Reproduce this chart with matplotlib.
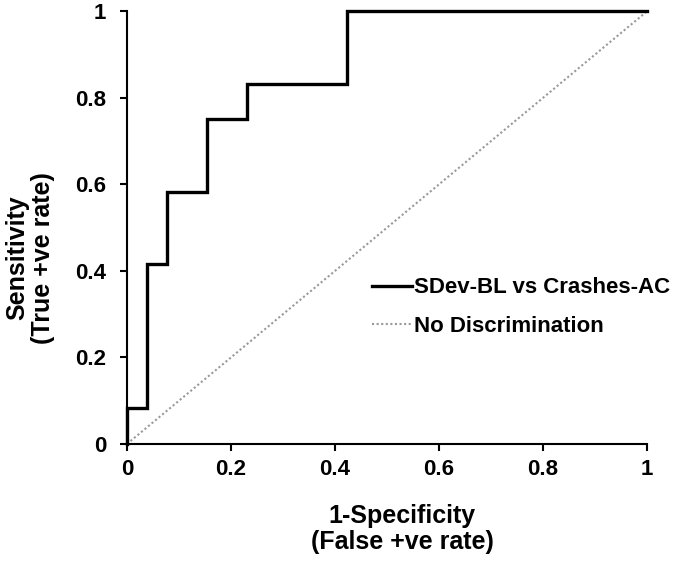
import matplotlib.pyplot as plt

plt.rcParams['font.family'] = ['Liberation Sans', 'DejaVu Sans']
plt.rcParams['font.weight'] = 'bold'

# ROC step points (1-specificity, sensitivity)
fpr = [0, 0, 0.038, 0.038, 0.077, 0.077, 0.154, 0.154, 0.231, 0.231, 0.423, 0.423, 1]
tpr = [0, 0.083, 0.083, 0.417, 0.417, 0.583, 0.583, 0.75, 0.75, 0.833, 0.833, 1, 1]
diag = [0, 1]
ticks = [0, 0.2, 0.4, 0.6, 0.8, 1]
tick_labels = ['0', '0.2', '0.4', '0.6', '0.8', '1']

fig = plt.figure(figsize=(6.79, 5.62), dpi=100)
ax = fig.add_axes([0.187, 0.21, 0.766, 0.77])

ax.plot(fpr, tpr, color='black', lw=2.4, label='SDev-BL vs Crashes-AC',
        solid_joinstyle='miter', clip_on=False, zorder=3)
ax.plot(diag, diag, color='#999999', lw=1.5, ls=(0, (1, 1.2)),
        label='No Discrimination', clip_on=False)

ax.set_xlim(0, 1)
ax.set_ylim(0, 1)
ax.set_xticks(ticks)
ax.set_xticklabels(tick_labels)
ax.set_yticks(ticks)
ax.set_yticklabels(tick_labels)
ax.tick_params(direction='out', length=5, width=1.5, labelsize=16)
ax.tick_params(axis='x', pad=6)
ax.tick_params(axis='y', pad=10)
for s in ['top', 'right']:
    ax.spines[s].set_visible(False)
for s in ['left', 'bottom']:
    ax.spines[s].set_linewidth(1.5)

ax.set_xlabel('1-Specificity\n(False +ve rate)', fontsize=18, fontweight='bold',
              linespacing=1.1)
ax.xaxis.set_label_coords(0.529, -0.138)
ax.set_ylabel('Sensitivity\n(True +ve rate)', fontsize=18, fontweight='bold',
              linespacing=1.1)
ax.yaxis.set_label_coords(-0.138, 0.43)

leg = ax.legend(loc='center left', bbox_to_anchor=(0.471, 0.316), frameon=False,
                fontsize=16, handlelength=1.8, handletextpad=0.1, labelspacing=0.8,
                borderpad=0, borderaxespad=0)

fig.savefig('out.png', dpi=100)
